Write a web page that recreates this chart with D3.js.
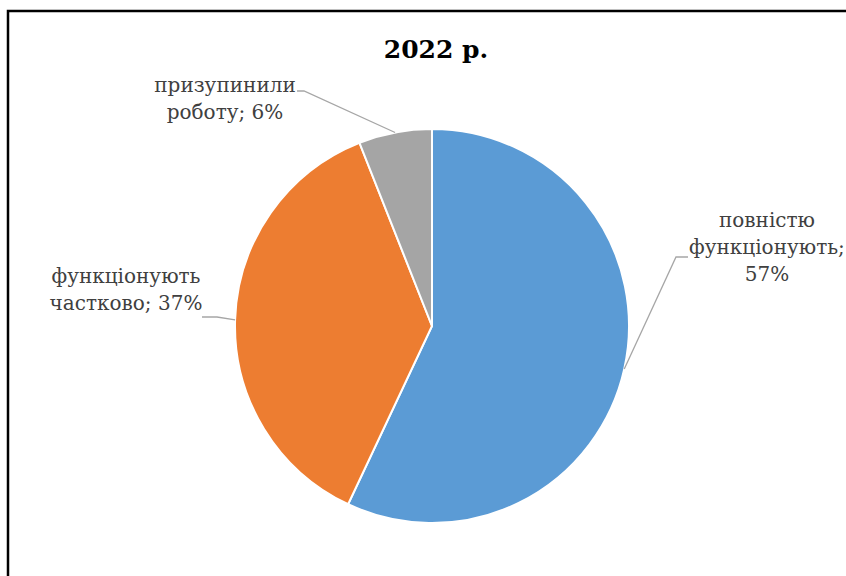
<!DOCTYPE html>
<html>
<head>
<meta charset="utf-8">
<script src="https://cdn.jsdelivr.net/npm/d3@7"></script>
<style>
  body { margin: 0; background: #fff; }
</style>
</head>
<body>
<svg id="chart" width="846" height="576"></svg>
<script>
// data
const title = "2022 р.";
const categories = ["повністю функціонують", "функціонують частково", "призупинили роботу"];
const values = [57, 37, 6];
const colors = ["#5B9BD5", "#ED7D31", "#A5A5A5"];
// how each label is broken into lines
const labelLines = [
    ["повністю", "функціонують;", "57%"],
    ["функціонують", "частково; 37%"],
    ["призупинили", "роботу; 6%"]
];

const serif = "'DejaVu Serif', serif";

const svg = d3.select("#chart");
const width = +svg.attr("width");
const height = +svg.attr("height");

// frame of the chart area (cut at right and bottom)
svg.append("rect")
    .attr("x", 8).attr("y", 11)
    .attr("width", width).attr("height", height)
    .attr("fill", "#fff")
    .attr("stroke", "#000")
    .attr("stroke-width", 2.5);

svg.append("text")
    .attr("x", 436).attr("y", 58)
    .attr("text-anchor", "middle")
    .attr("font-family", serif)
    .attr("font-size", 25)
    .attr("font-weight", "bold")
    .attr("fill", "#000")
    .text(title);

const cx = 432, cy = 326, radius = 197;
const g = svg.append("g").attr("transform", `translate(${cx},${cy})`);

const pie = d3.pie().sort(null).value(d => d);
const arcs = pie(values);
const arc = d3.arc().innerRadius(0).outerRadius(radius);
const edgeArc = d3.arc().innerRadius(radius).outerRadius(radius);

g.selectAll("path.slice").data(arcs)
    .join("path")
    .attr("class", "slice")
    .attr("d", arc)
    .attr("fill", (d, i) => colors[i])
    .attr("stroke", "#fff")
    .attr("stroke-width", 2);

// label placement: text centre, first baseline, elbow of leader, end of tick
const labelPos = [
    { x: 767, y: 227, ex: 676, ey: 257, tx: 688 },
    { x: 126, y: 283, ex: 217, ey: 317, tx: 202 },
    { x: 225, y: 92, ex: 304, ey: 91, tx: 297 }
];
const lineHeight = 27;

arcs.forEach((d, i) => {
    const p = edgeArc.centroid(d);
    const lp = labelPos[i];
    svg.append("polyline")
        .attr("points", [[cx + p[0], cy + p[1]], [lp.ex, lp.ey], [lp.tx, lp.ey]].map(q => q.join(",")).join(" "))
        .attr("fill", "none")
        .attr("stroke", "#A6A6A6")
        .attr("stroke-width", 1.3);

    const t = svg.append("text")
        .attr("text-anchor", "middle")
        .attr("font-family", serif)
        .attr("font-size", 20)
        .attr("fill", "#404040");
    labelLines[i].forEach((line, j) => {
        t.append("tspan")
            .attr("x", lp.x)
            .attr("y", lp.y + j * lineHeight)
            .text(line);
    });
});
</script>
</body>
</html>
